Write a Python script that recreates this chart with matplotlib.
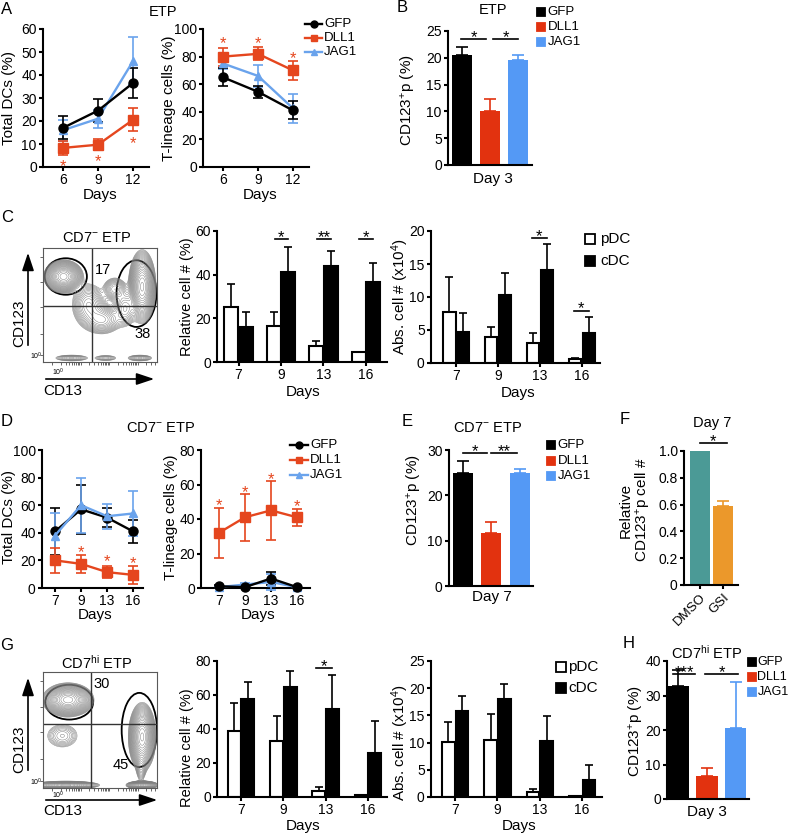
import numpy as np
import matplotlib
matplotlib.use('Agg')
import matplotlib.pyplot as plt
from matplotlib.patches import Ellipse, Rectangle, FancyArrowPatch
from matplotlib.lines import Line2D

plt.rcParams['font.family'] = ['Liberation Sans', 'DejaVu Sans']
plt.rcParams['mathtext.fontset'] = 'custom'
plt.rcParams['mathtext.rm'] = 'Liberation Sans'
plt.rcParams['mathtext.it'] = 'Liberation Sans:italic'
plt.rcParams['mathtext.bf'] = 'Liberation Sans:bold'

# ---------------- data ----------------
groups = ['GFP', 'DLL1', 'JAG1']

days_A = [6, 9, 12]
A_dc_gfp = [17, 24.5, 36.5]
A_dc_gfp_err = [5, 5, 6.5]
A_dc_dll1 = [8.3, 9.7, 20.5]
A_dc_dll1_err = [3, 2.3, 5]
A_dc_jag1 = [16, 21, 46]
A_dc_jag1_err = [4.5, 4, 10.5]
A_t_gfp = [65, 54.5, 41]
A_t_gfp_err = [6.5, 4.5, 6.5]
A_t_dll1 = [80, 82, 70]
A_t_dll1_err = [6.5, 4.7, 7]
A_t_jag1 = [75, 66, 42.5]
A_t_jag1_err = [4, 8, 10.5]
A_dc_star_y = [2.2, 4.8, 12.6]
A_t_star_y = [93.5, 93.5, 82.6]

B_vals = [20.5, 10, 19.5]
B_err = [1.5, 2.3, 1.1]

days_C = ['7', '9', '13', '16']
C_rel_pdc = [25, 16.5, 7.5, 4.5]
C_rel_pdc_err = [10.5, 6.3, 2, 0]
C_rel_cdc = [16, 41, 44, 36.5]
C_rel_cdc_err = [7, 11.5, 7, 9]
C_rel_sig = ['', '*', '**', '*']
C_abs_pdc = [7.8, 4.0, 3.0, 0.6]
C_abs_pdc_err = [5.2, 1.4, 1.5, 0.2]
C_abs_cdc = [4.7, 10.3, 14.1, 4.6]
C_abs_cdc_err = [2.9, 3.3, 4.0, 2.3]
C_abs_sig = ['', '', '*', '*']
C_quad = ['17', '38']

days_D = ['7', '9', '13', '16']
D_dc_gfp = [41, 57, 51, 41]
D_dc_gfp_err = [17, 18, 7, 8.5]
D_dc_dll1 = [20, 17.5, 11.5, 9.5]
D_dc_dll1_err = [9, 6.5, 4.5, 6.5]
D_dc_jag1 = [38, 60, 52, 54]
D_dc_jag1_err = [16, 20, 9, 16.5]
D_t_gfp = [1, 0.5, 5.5, 0.5]
D_t_gfp_err = [0.8, 0.5, 4, 0.5]
D_t_dll1 = [32, 41, 45, 41]
D_t_dll1_err = [14.5, 13.5, 17, 5]
D_t_jag1 = [0.5, 2, 3.5, 0.5]
D_t_jag1_err = [0.5, 0.8, 4.5, 0.5]
D_dc_star_y = [None, 29.7, 22.5, 21.7]
D_t_star_y = [51, 58.5, 66, 50]

E_vals = [25, 11.8, 25]
E_err = [2.5, 2.4, 0.8]

F_labels = ['DMSO', 'GSI']
F_vals = [1.0, 0.59]
F_err = [0, 0.035]

G_rel_pdc = [39, 33, 3.5, 1]
G_rel_pdc_err = [16.5, 14.5, 2.5, 0]
G_rel_cdc = [57.5, 65, 52, 26]
G_rel_cdc_err = [10, 9, 19.5, 19]
G_rel_sig = ['', '', '*', '']
G_abs_pdc = [10.1, 10.5, 1.0, 0.1]
G_abs_pdc_err = [3.7, 4.8, 0.4, 0]
G_abs_cdc = [15.8, 18.0, 10.3, 3.1]
G_abs_cdc_err = [2.8, 2.8, 4.6, 2.7]
G_quad = ['30', '45']

H_vals = [32.7, 6.8, 20.5]
H_err = [4.8, 2.2, 13.5]

# flow-plot density components (u, v, su, sv, weight) in box units
C_blobs = [(0.18, 0.75, 0.065, 0.055, 1.0), (0.87, 0.66, 0.045, 0.12, 1.1),
           (0.40, 0.50, 0.07, 0.09, 0.22), (0.52, 0.37, 0.08, 0.06, 0.22),
           (0.63, 0.64, 0.05, 0.05, 0.18), (0.72, 0.47, 0.05, 0.08, 0.16),
           (0.25, 0.035, 0.08, 0.015, 0.12), (0.55, 0.035, 0.06, 0.015, 0.08),
           (0.85, 0.035, 0.06, 0.015, 0.12)]
G_blobs = [(0.22, 0.76, 0.085, 0.055, 1.0), (0.17, 0.45, 0.08, 0.06, 0.10),
           (0.87, 0.44, 0.045, 0.11, 1.1), (0.20, 0.025, 0.12, 0.014, 0.6),
           (0.87, 0.025, 0.055, 0.014, 0.8), (0.86, 0.18, 0.022, 0.07, 0.10)]

# ---------------- style ----------------
K = 'black'
RED_L = '#e5461e'
BLUE_L = '#6aa3ec'
RED_B = '#e2320f'
BLUE_B = '#5499f5'
TEAL = '#4b9a96'
ORANGE = '#eb982b'

W, H = 788, 834
fig = plt.figure(figsize=(W / 100, H / 100), dpi=100)


def axp(x0, ytop, x1, ybot):
    return fig.add_axes([x0 / W, 1 - ybot / H, (x1 - x0) / W, (ybot - ytop) / H])


def T(x, y, s, size=10, ha='center', va='center', **kw):
    fig.text(x / W, 1 - y / H, s, size=size, ha=ha, va=va, **kw)


def style(ax):
    for s in ['top', 'right']:
        ax.spines[s].set_visible(False)
    for s in ['left', 'bottom']:
        ax.spines[s].set_linewidth(1.5)
    ax.tick_params(width=1.5, length=3, labelsize=10, pad=1.5)
    ax.patch.set_alpha(0)


def star(ax, x, y, s='*', color=K, size=12, dy=0):
    ax.annotate(s, (x, y), xytext=(0, -0.58 * size + dy), textcoords='offset points',
                ha='center', va='baseline', color=color, size=size, annotation_clip=False)


def bracket(ax, x0, x1, y, s):
    ax.plot([x0, x1], [y, y], color=K, lw=1.2, clip_on=False)
    star(ax, (x0 + x1) / 2, y, s, dy=5)


def lines(ax, x, series):
    for m, e, c, mk, ms in series:
        ax.errorbar(x, m, yerr=e, color=c, marker=mk, ms=ms, lw=1.7, elinewidth=1.2,
                    capsize=3.5, capthick=1.2, clip_on=False, zorder=3)


def bars3(ax, vals, errs, width):
    x = np.arange(3)
    cols = [K, RED_B, BLUE_B]
    ax.bar(x, vals, width=width, color=cols)
    for xi, v, e, c in zip(x, vals, errs, cols):
        ax.errorbar(xi, v, yerr=[[0], [e]], color=c, capsize=4, elinewidth=1.2, capthick=1.2)
    ax.set_xticks([])


def pairbars(ax, p, pe, c, ce, w, off):
    x = np.arange(len(p))
    ax.bar(x - off, p, w, color='white', edgecolor=K, lw=1.5, zorder=2)
    ax.bar(x + off, c, w, color=K, edgecolor=K, lw=1.5, zorder=2)
    for xi, v, e in zip(x - off, p, pe):
        if e > 0:
            ax.errorbar(xi, v, yerr=[[0], [e]], color=K, capsize=3, elinewidth=1.2, capthick=1.2, zorder=1)
    for xi, v, e in zip(x + off, c, ce):
        if e > 0:
            ax.errorbar(xi, v, yerr=[[0], [e]], color=K, capsize=3, elinewidth=1.2, capthick=1.2, zorder=1)
    ax.set_xticks(x)
    ax.set_xticklabels(days_C)


def line_legend(x0, x1, ys, size=9.5):
    specs = [(K, 'o', 5), (RED_L, 's', 5), (BLUE_L, '^', 5)]
    for (c, mk, ms), y, lab in zip(specs, ys, groups):
        fig.add_artist(Line2D([x0 / W, x1 / W], [1 - y / H, 1 - y / H], color=c, lw=1.7,
                              transform=fig.transFigure))
        fig.add_artist(Line2D([(x0 + x1) / 2 / W], [1 - y / H], color=c, marker=mk, ms=ms,
                              transform=fig.transFigure))
        T(x1 + 2, y, lab, size=size, ha='left')


def square_legend(x0, sz, ys, labels, faces, size=9.5, gap=3):
    for y, lab, fc in zip(ys, labels, faces):
        fig.add_artist(Rectangle((x0 / W, 1 - (y + sz / 2) / H), sz / W, sz / H, facecolor=fc,
                                 edgecolor=K if fc == 'white' else fc, lw=1.3,
                                 transform=fig.transFigure))
        T(x0 + sz + gap, y, lab, size=size, ha='left')


def flow(x0, ytop, x1, ybot, blobs, vline, hline, ells):
    ax = axp(x0, ytop, x1, ybot)
    u = np.linspace(0, 1, 300)
    X, Y = np.meshgrid(u, u)
    Z = np.zeros_like(X)
    for (a, b, sa, sb, w) in blobs:
        Z += w * np.exp(-((X - a) ** 2 / (2 * sa ** 2) + (Y - b) ** 2 / (2 * sb ** 2)))
    lv = Z.max() * np.geomspace(0.025, 0.95, 24)
    ax.contour(X, Y, Z, lv, colors='0.5', linewidths=0.35)
    ax.axvline(vline, color='0.2', lw=1.0)
    ax.axhline(hline, color='0.2', lw=1.0)
    for (a, b, w, h) in ells:
        ax.add_patch(Ellipse((a, b), w, h, fill=False, ec=K, lw=1.3))
    ax.set_xlim(0, 1)
    ax.set_ylim(0, 1)
    for s in ax.spines.values():
        s.set_linewidth(0.8)
        s.set_color('0.35')
    ax.set_yticks([0.06, 0.25, 0.48, 0.70, 0.92])
    bt = []
    for d0 in [0.08, 0.33, 0.58, 0.83]:
        for k in range(1, 10):
            p = d0 + 0.25 * np.log10(k)
            if p < 1:
                bt.append(p)
    ax.set_xticks(bt)
    ax.tick_params(length=2.5, width=0.6, color='0.3', labelleft=False, labelbottom=False)
    return ax


def arrow(p0, p1):
    fig.add_artist(FancyArrowPatch((p0[0] / W, 1 - p0[1] / H), (p1[0] / W, 1 - p1[1] / H),
                                   transform=fig.transFigure, arrowstyle='-|>,head_length=0.9,head_width=0.3',
                                   mutation_scale=12, lw=1.2, color=K))

# ---------------- Panel A ----------------
ax = axp(43, 29, 149, 167)
style(ax)
lines(ax, days_A, [(A_dc_jag1, A_dc_jag1_err, BLUE_L, '^', 5.5),
                   (A_dc_gfp, A_dc_gfp_err, K, 'o', 6.5),
                   (A_dc_dll1, A_dc_dll1_err, RED_L, 's', 6.5)])
ax.set_xlim(4.29, 13.37)
ax.set_ylim(0, 60)
ax.set_xticks(days_A)
ax.set_yticks(range(0, 61, 10))
for d, y in zip(days_A, A_dc_star_y):
    star(ax, d, y, color=RED_L)

ax = axp(203, 29, 309, 167)
style(ax)
lines(ax, days_A, [(A_t_jag1, A_t_jag1_err, BLUE_L, '^', 5.5),
                   (A_t_gfp, A_t_gfp_err, K, 'o', 6.5),
                   (A_t_dll1, A_t_dll1_err, RED_L, 's', 6.5)])
ax.set_xlim(4.29, 13.37)
ax.set_ylim(0, 100)
ax.set_xticks(days_A)
ax.set_yticks(range(0, 101, 20))
for d, y in zip(days_A, A_t_star_y):
    star(ax, d, y, color=RED_L)

T(7, 10, 'A', size=12)
T(163, 12, 'ETP', size=10.5)
T(9, 98, 'Total DCs (%)', size=11, rotation=90)
T(169, 98, 'T-lineage cells (%)', size=11, rotation=90)
T(100, 195, 'Days', size=11)
T(260, 195, 'Days', size=11)
line_legend(305, 322, [24, 38, 52])

# ---------------- Panel B ----------------
ax = axp(448, 31, 532, 165)
style(ax)
bars3(ax, B_vals, B_err, 0.72)
ax.set_xlim(-0.52, 2.5)
ax.set_ylim(0, 25)
ax.set_yticks(range(0, 26, 5))
bracket(ax, -0.05, 0.86, 23.5, '*')
bracket(ax, 1.1, 2.0, 23.5, '*')
T(402, 8, 'B', size=12)
T(493, 10, 'ETP', size=10.5)
T(408, 100, r'CD123$^{+}$p (%)', size=11, rotation=90)
T(493, 179, 'Day 3', size=11)
square_legend(537, 7.5, [12, 27, 42], groups, [K, RED_B, BLUE_B])

# ---------------- Panel C ----------------
flow(43, 248, 157, 362, C_blobs, 0.43, 0.49,
     [(0.20, 0.75, 0.37, 0.32), (0.82, 0.60, 0.35, 0.585)])
T(7, 217, 'C', size=12)
T(97, 238, r'CD7$^{-}$ ETP', size=10.5)
T(103, 270, C_quad[0], size=10.5)
T(143, 334, C_quad[1], size=10.5)
T(19, 323, 'CD123', size=11, rotation=90)
T(43, 391, 'CD13', size=11, ha='left')
T(36, 356, r'10$^{0}$', size=5)
T(58, 372, r'10$^{0}$', size=5)
arrow((28, 348), (28, 250))
arrow((43, 379), (157, 379))

ax = axp(217, 231, 387, 362)
style(ax)
pairbars(ax, C_rel_pdc, C_rel_pdc_err, C_rel_cdc, C_rel_cdc_err, 0.33, 0.17)
ax.set_xlim(-0.51, 3.5)
ax.set_ylim(0, 60)
ax.set_yticks(range(0, 61, 20))
for i, s in enumerate(C_rel_sig):
    if s:
        bracket(ax, i - 0.15, i + 0.17, 56.3, s)
T(187, 297, 'Relative cell # (%)', size=10.5, rotation=90)
T(303, 392, 'Days', size=11)

ax = axp(431, 231, 600, 363)
style(ax)
pairbars(ax, C_abs_pdc, C_abs_pdc_err, C_abs_cdc, C_abs_cdc_err, 0.29, 0.16)
ax.set_xlim(-0.6, 3.43)
ax.set_ylim(0, 20)
ax.set_yticks(range(0, 21, 5))
bracket(ax, 2 - 0.2, 2 + 0.16, 18.9, C_abs_sig[2])
bracket(ax, 3 - 0.2, 3 + 0.16, 7.9, C_abs_sig[3])
T(400, 297, r'Abs. cell # (x10$^{4}$)', size=11, rotation=90)
T(518, 393, 'Days', size=11)
square_legend(585, 10, [239, 261], ['pDC', 'cDC'], ['white', K], size=11, gap=5)

# ---------------- Panel D ----------------
ax = axp(42, 450, 143, 588)
style(ax)
xD = np.arange(4)
lines(ax, xD, [(D_dc_gfp, D_dc_gfp_err, K, 'o', 6.5),
               (D_dc_jag1, D_dc_jag1_err, BLUE_L, '^', 5.5),
               (D_dc_dll1, D_dc_dll1_err, RED_L, 's', 6.5)])
ax.set_xlim(-0.5, 3.38)
ax.set_ylim(0, 100)
ax.set_xticks(xD)
ax.set_xticklabels(days_D)
ax.set_yticks(range(0, 101, 20))
for i, y in enumerate(D_dc_star_y):
    if y is not None:
        star(ax, i, y, color=RED_L)

ax = axp(201, 450, 310, 588)
style(ax)
lines(ax, xD, [(D_t_jag1, D_t_jag1_err, BLUE_L, '^', 5.5),
               (D_t_gfp, D_t_gfp_err, K, 'o', 6.5),
               (D_t_dll1, D_t_dll1_err, RED_L, 's', 6.5)])
ax.set_xlim(-0.69, 3.5)
ax.set_ylim(0, 80)
ax.set_xticks(xD)
ax.set_xticklabels(days_D)
ax.set_yticks(range(0, 81, 20))
for i, y in enumerate(D_t_star_y):
    star(ax, i, y, color=RED_L)

T(7, 421, 'D', size=12)
T(161, 428, r'CD7$^{-}$ ETP', size=10.5)
T(9, 517, 'Total DCs (%)', size=11, rotation=90)
T(171, 517, 'T-lineage cells (%)', size=11, rotation=90)
T(95, 615, 'Days', size=11)
T(258, 615, 'Days', size=11)
line_legend(290, 308, [445, 460, 475])

# ---------------- Panel E ----------------
ax = axp(449, 450, 533, 586)
style(ax)
bars3(ax, E_vals, E_err, 0.70)
ax.set_xlim(-0.49, 2.46)
ax.set_ylim(0, 30)
ax.set_yticks(range(0, 31, 10))
bracket(ax, 0.0, 0.84, 29.3, '*')
bracket(ax, 1.0, 1.9, 29.3, '**')
T(407, 421, 'E', size=12)
T(488, 428, r'CD7$^{-}$ ETP', size=10.5)
T(414, 500, r'CD123$^{+}$p (%)', size=11, rotation=90)
T(492, 597, 'Day 7', size=11)
square_legend(547, 7.5, [445, 461, 476], groups, [K, RED_B, BLUE_B])

# ---------------- Panel F ----------------
ax = axp(684, 451, 738, 585)
style(ax)
xF = np.arange(2)
ax.bar(xF, F_vals, width=0.85, color=[TEAL, ORANGE])
ax.errorbar(xF[1], F_vals[1], yerr=[[0], [F_err[1]]], color=ORANGE, capsize=4, elinewidth=1.2, capthick=1.2)
ax.set_xlim(-0.68, 1.62)
ax.set_ylim(0, 1.0)
ax.set_yticks([0, 0.2, 0.4, 0.6, 0.8, 1.0])
ax.set_yticklabels(['0', '0.2', '0.4', '0.6', '0.8', '1.0'])
ax.set_xticks(xF)
ax.set_xticklabels(F_labels, rotation=45, ha='right', rotation_mode='anchor', size=9.5)
bracket(ax, 0.0, 1.15, 1.06, '*')
T(625, 420, 'F', size=12)
T(712, 423, 'Day 7', size=10.5)
T(636, 510, 'Relative\n' + r'CD123$^{+}$p cell #', size=11, rotation=90, linespacing=1.1)

# ---------------- Panel G ----------------
flow(43, 672, 157, 788, G_blobs, 0.42, 0.55,
     [(0.23, 0.74, 0.42, 0.30), (0.845, 0.50, 0.31, 0.64)])
T(7, 645, 'G', size=12)
T(97, 663, r'CD7$^{\mathrm{hi}}$ ETP', size=10.5)
T(102, 684, G_quad[0], size=10.5)
T(121, 765, G_quad[1], size=10.5)
T(19, 749, 'CD123', size=11, rotation=90)
T(43, 811, 'CD13', size=11, ha='left')
T(36, 782, r'10$^{0}$', size=5)
T(58, 795, r'10$^{0}$', size=5)
arrow((28, 773), (28, 675))
arrow((43, 800), (160, 800))

ax = axp(217, 661, 387, 797)
style(ax)
pairbars(ax, G_rel_pdc, G_rel_pdc_err, G_rel_cdc, G_rel_cdc_err, 0.31, 0.16)
ax.set_xlim(-0.57, 3.45)
ax.set_ylim(0, 80)
ax.set_yticks(range(0, 81, 20))
bracket(ax, 2 - 0.24, 2 + 0.14, 75.9, G_rel_sig[2])
T(187, 748, 'Relative cell # (%)', size=10.5, rotation=90)
T(303, 826, 'Days', size=11)

ax = axp(431, 661, 602, 797)
style(ax)
pairbars(ax, G_abs_pdc, G_abs_pdc_err, G_abs_cdc, G_abs_cdc_err, 0.30, 0.16)
ax.set_xlim(-0.57, 3.47)
ax.set_ylim(0, 25)
ax.set_yticks(range(0, 26, 5))
T(400, 743, r'Abs. cell # (x10$^{4}$)', size=11, rotation=90)
T(519, 826, 'Days', size=11)
square_legend(556, 10, [667, 688], ['pDC', 'cDC'], ['white', K], size=11, gap=2)

# ---------------- Panel H ----------------
ax = axp(667, 661, 749, 799)
style(ax)
bars3(ax, H_vals, H_err, 0.74)
ax.set_xlim(-0.4, 2.47)
ax.set_ylim(0, 40)
ax.set_yticks(range(0, 41, 10))
bracket(ax, -0.19, 0.58, 36.2, '***')
bracket(ax, 0.93, 2.09, 36.2, '*')
T(629, 644, 'H', size=12)
T(707, 653, r'CD7$^{\mathrm{hi}}$ ETP', size=10.5)
T(636, 731, r'CD123$^{+}$p (%)', size=11, rotation=90)
T(707, 812, 'Day 3', size=11)
square_legend(748, 7.5, [662, 677, 692], groups, [K, RED_B, BLUE_B], size=9, gap=2)

fig.savefig('out.png', dpi=100)
